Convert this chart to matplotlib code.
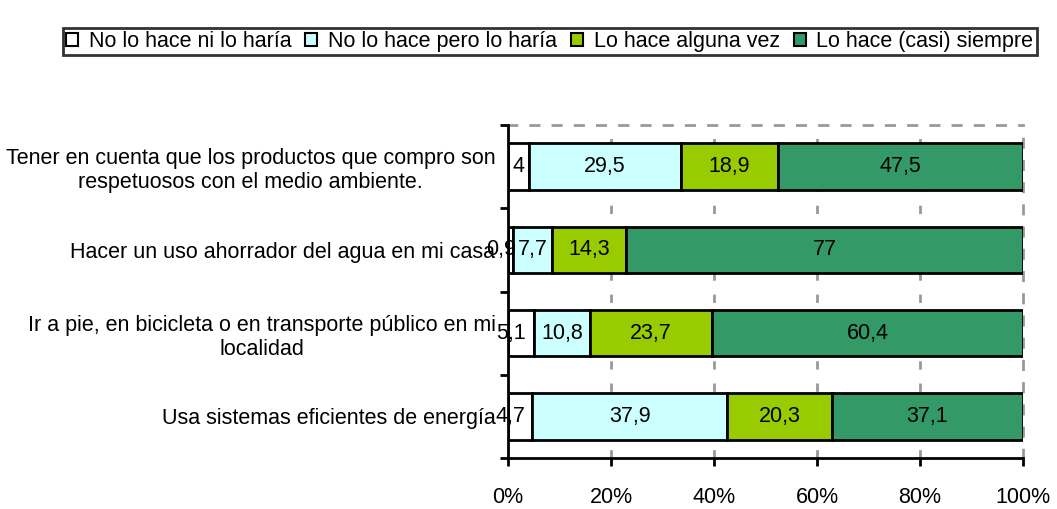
import matplotlib
matplotlib.use("Agg")
import matplotlib.pyplot as plt
from matplotlib.transforms import offset_copy
import numpy as np

# categorias (de abajo hacia arriba)
categories = [
    "Usa sistemas eficientes de energía",
    "Ir a pie, en bicicleta o en transporte público en mi\nlocalidad",
    "Hacer un uso ahorrador del agua en mi casa",
    "Tener en cuenta que los productos que compro son\nrespetuosos con el medio ambiente.",
]
series_names = [
    "No lo hace ni lo haría",
    "No lo hace pero lo haría",
    "Lo hace alguna vez",
    "Lo hace (casi) siempre",
]
no_ni_haria = [4.7, 5.1, 0.9, 4]
no_pero_haria = [37.9, 10.8, 7.7, 29.5]
alguna_vez = [20.3, 23.7, 14.3, 18.9]
casi_siempre = [37.1, 60.4, 77, 47.5]
value_labels = [
    ["4,7", "5,1", "0,9", "4"],
    ["37,9", "10,8", "7,7", "29,5"],
    ["20,3", "23,7", "14,3", "18,9"],
    ["37,1", "60,4", "77", "47,5"],
]
colors = ["#FFFFFF", "#CCFFFF", "#99CC00", "#339966"]

plt.rcParams["font.family"] = ["Liberation Sans", "DejaVu Sans"]
FS = 15.5

data = np.array([no_ni_haria, no_pero_haria, alguna_vez, casi_siempre], dtype=float)
pct = data / data.sum(axis=0) * 100

fig = plt.figure(figsize=(10.57, 5.09), dpi=100)
ax = fig.add_axes([508 / 1057, 1 - 458 / 509, 515 / 1057, 333 / 509])

# etiquetas que no caben en el segmento se desplazan un poco a la izquierda (como Excel)
shifted = offset_copy(ax.transData, fig=fig, x=-7, y=0, units="points")

y = np.arange(len(categories))
left = np.zeros(len(categories))
handles = []
for i in range(4):
    bars = ax.barh(y, pct[i], left=left, height=0.56, color=colors[i],
                   edgecolor="black", linewidth=2, label=series_names[i], zorder=3)
    handles.append(bars)
    for j in range(len(categories)):
        lab = value_labels[i][j]
        tr = shifted if (pct[i][j] < 6 and len(lab) > 1) else ax.transData
        ax.text(left[j] + pct[i][j] / 2, y[j], lab, transform=tr,
                ha="center", va="center", fontsize=FS, zorder=4)
    left += pct[i]

ax.set_xlim(0, 100)
ax.set_ylim(-0.5, len(categories) - 0.5)
ax.set_xticks([0, 20, 40, 60, 80, 100])
ax.set_xticklabels(["0%", "20%", "40%", "60%", "80%", "100%"], fontsize=FS)
ax.tick_params(axis="x", length=6, width=2, pad=15)

ax.set_yticks(np.arange(-0.5, len(categories), 1))
ax.set_yticklabels([])
ax.tick_params(axis="y", which="major", length=6, width=2)
ax.set_yticks(y, minor=True)
ax.set_yticklabels(categories, minor=True, fontsize=FS, ma="center")
ax.tick_params(axis="y", which="minor", length=0, pad=9)

for xv in [20, 40, 60, 80]:
    ax.axvline(xv, color="#999999", linestyle=(0, (3, 5)), linewidth=2, zorder=1)

ax.spines["left"].set_linewidth(2)
ax.spines["left"].set_zorder(5)
ax.spines["bottom"].set_linewidth(2)
for s in ["top", "right"]:
    ax.spines[s].set_color("#999999")
    ax.spines[s].set_linestyle((0, (3, 5)))
    ax.spines[s].set_linewidth(2)

leg = fig.legend(handles=handles, loc="upper left", bbox_to_anchor=(63 / 1057, 1 - 28 / 509),
                 ncol=4, frameon=True, fontsize=FS, handlelength=0.55, handleheight=0.55,
                 handletextpad=0.5, columnspacing=0.65, borderpad=0.15, borderaxespad=0,
                 fancybox=False)
leg.get_frame().set_edgecolor("black")
leg.get_frame().set_linewidth(2)
for h in leg.legend_handles:
    h.set_linewidth(1.5)

fig.savefig("out.png", dpi=100)
